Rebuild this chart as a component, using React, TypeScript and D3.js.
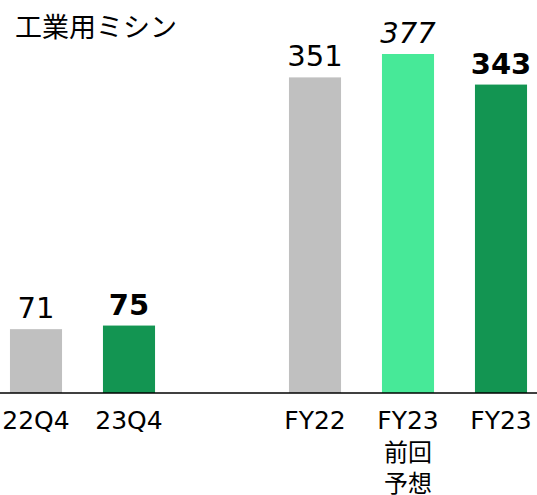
import React from 'react';
import * as d3 from 'd3';

const categories = ['22Q4', '23Q4', '', 'FY22', 'FY23 前回', 'FY23'];
const mainLabels = ['22Q4', '23Q4', '', 'FY22', 'FY23', 'FY23'];
const subLabels = [[], [], [], [], ['前回', '予想'], []];
const values = [71, 75, null, 351, 377, 343];
const colors = ['#c0c0c0', '#139552', null, '#c0c0c0', '#47e998', '#139552'];
const labelStyles = ['normal', 'bold', null, 'normal', 'italic', 'bold'];

const W = 537;
const H = 495;
const baseY = 393;

const App = () => {
    const x = d3.scaleBand()
        .domain(categories)
        .range([-10.5, 547.5])
        .paddingInner(0.44)
        .paddingOuter(0.22);

    const y = d3.scaleLinear()
        .domain([0, 377])
        .range([baseY, 54]);

    const font = '"DejaVu Sans", Verdana, sans-serif';
    const cjk = '"Noto Sans CJK JP", sans-serif';

    return (
        <svg width={W} height={H} style={{ position: 'absolute', left: 0, top: 0, background: '#fff' }}>
            <text x={15} y={37} fontFamily={cjk} fontSize={27} fill='#000'>
                工業用ミシン
            </text>
            {categories.map((c, i) => {
                const v = values[i];
                if (v == null) return null;
                const cx = x(c) + x.bandwidth() / 2;
                const st = labelStyles[i];
                return (
                    <g key={c}>
                        <rect x={x(c)} y={y(v)} width={x.bandwidth()} height={baseY - y(v)} fill={colors[i]} />
                        <text
                            x={cx}
                            y={y(v) - 11}
                            textAnchor='middle'
                            fontFamily={font}
                            fontSize={29}
                            fontWeight={st === 'bold' ? 'bold' : 'normal'}
                            fontStyle={st === 'italic' ? 'italic' : 'normal'}
                            fill='#000'
                        >
                            {v}
                        </text>
                        <text x={cx} y={429} textAnchor='middle' fontFamily={font} fontSize={25} fill='#000'>
                            {mainLabels[i]}
                            {subLabels[i].map((s, j) => (
                                <tspan key={s} x={cx} dy={j === 0 ? 32 : 31} fontFamily={cjk} fontSize={24}>
                                    {s}
                                </tspan>
                            ))}
                        </text>
                    </g>
                );
            })}
            <line x1={0} x2={W} y1={baseY} y2={baseY} stroke='#000' strokeWidth={1.5} />
        </svg>
    );
};

export default App;
